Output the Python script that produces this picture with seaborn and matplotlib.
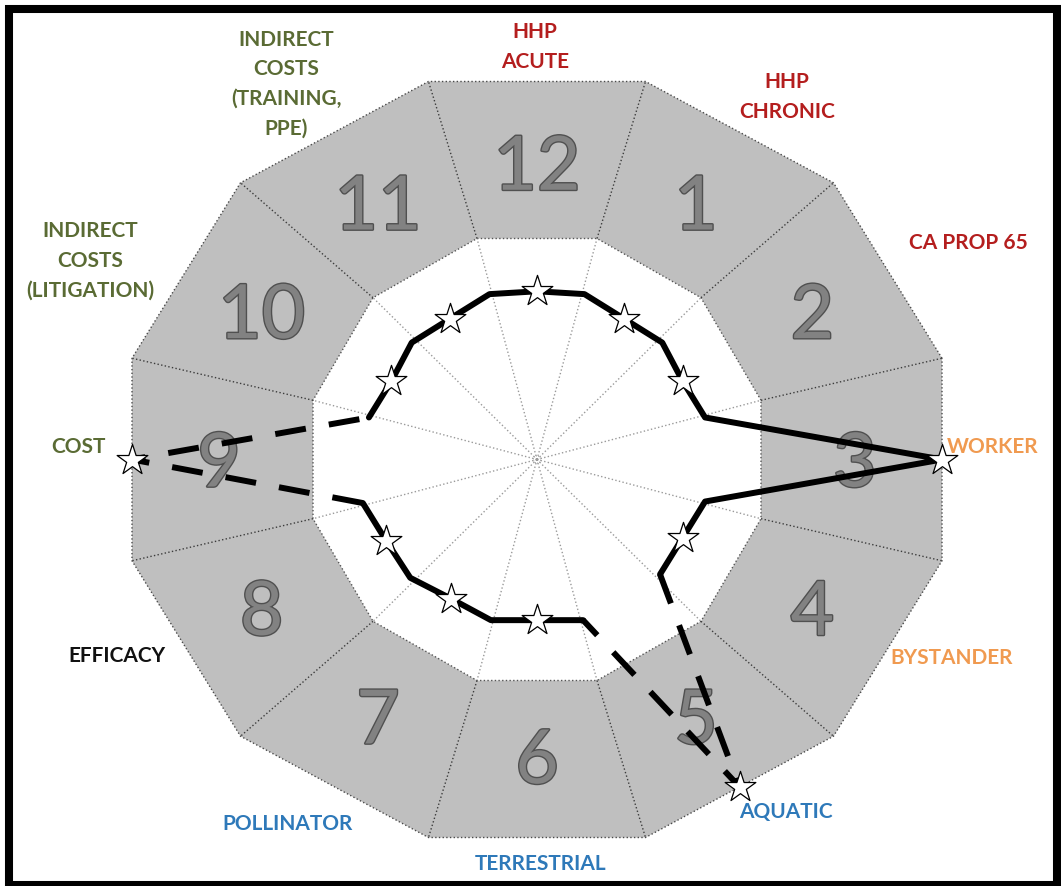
import numpy as np
import pandas as pd
import matplotlib
matplotlib.use("Agg")
import matplotlib.pyplot as plt
import matplotlib.patheffects as pe
from matplotlib.patches import Polygon, Rectangle, Circle
import seaborn as sns

# --- data -------------------------------------------------------------
sectors = [1, 2, 3, 4, 5, 6, 7, 8, 9, 10, 11, 12]
scores = [0.43, 0.415, 1.0, 0.415, 1.0, 0.425, 0.425, 0.43, 1.0, 0.415, 0.43, 0.445]
dashed_sectors = [5, 9]
criteria = ["HHP\nCHRONIC", "CA PROP 65", "WORKER", "BYSTANDER", "AQUATIC",
            "TERRESTRIAL", "POLLINATOR", "EFFICACY", "COST",
            "INDIRECT\nCOSTS\n(LITIGATION)", "INDIRECT\nCOSTS\n(TRAINING,\nPPE)",
            "HHP\nACUTE"]
groups = ["human", "human", "exposure", "exposure", "eco", "eco", "eco",
          "efficacy", "economic", "economic", "economic", "human"]
group_colors = {"human": "#b41e1e", "exposure": "#f09a50", "eco": "#2e79b9",
                "efficacy": "#111111", "economic": "#5a6b34"}
# label anchor, in picture pixels (x from left, y from top)
label_xy = [(787, 97), (968, 243), (993, 447), (952, 658), (786, 812),
            (541, 864), (288, 824), (117, 656), (78, 447), (90, 261),
            (286, 84), (535, 47)]

# --- geometry ---------------------------------------------------------
W, H = 1061, 886
CX, CY = 537, 459.5
RX, RY = 405, 378          # outer ring apothem (px), a bit wider than tall
IN_X, IN_Y = 224, 221      # inner white ring apothem (px)
NUM_R = 0.785
C15 = np.cos(np.radians(15))


def to_xy(angle, r, rx=RX, ry=RY):
    a = np.radians(angle)
    return r * np.cos(a) * rx, r * np.sin(a) * ry


def center_angle(s):
    return 90 - 30 * s


def dodecagon(rx, ry):
    return [to_xy(15 + 30 * k, 1 / C15, rx, ry) for k in range(12)]


sns.set_style("white")
plt.rcParams["font.family"] = ["Lato", "DejaVu Sans"]

fig = plt.figure(figsize=(W / 100, H / 100), dpi=100)
ax = fig.add_axes([0, 0, 1, 1])
ax.set_xlim(-CX, W - CX)
ax.set_ylim(CY - H, CY)
ax.axis("off")

# rings
ax.add_patch(Polygon(dodecagon(RX, RY), closed=True, fc="#bfbfbf", ec="#4a4a4a",
                     lw=1, ls=":", zorder=1))
ax.add_patch(Polygon(dodecagon(IN_X, IN_Y), closed=True, fc="white", ec="#555555",
                     lw=1, ls=":", zorder=1.5))

# spokes
outer_v = dodecagon(RX, RY)
inner_v = dodecagon(IN_X, IN_Y)
for (ox, oy), (ix, iy) in zip(outer_v, inner_v):
    ax.plot([0, ix], [0, iy], ls=":", color="#9a9a9a", lw=1, zorder=2)
    ax.plot([ix, ox], [iy, oy], ls=":", color="#3c3c3c", lw=1, zorder=2)
ax.add_patch(Circle((0, 0), 3.5, fill=False, ec="#888888", lw=0.6, ls=":", zorder=2))

# sector numbers
for s in sectors:
    x, y = to_xy(center_angle(s), NUM_R)
    ax.text(x, y - 27, str(s), fontsize=54, color="#828282", ha="center",
            va="baseline", zorder=3,
            path_effects=[pe.withStroke(linewidth=2, foreground="#505050")])

# score line: star at each sector centre, vertices on the sector boundaries
score_of = dict(zip(sectors, scores))
style_of = {s: ("dashed" if s in dashed_sectors else "solid") for s in sectors}


def boundary(s, t):
    vals = [score_of[k] for k in (s, t) if score_of[k] < 0.9]
    return to_xy(center_angle(s) - 15, np.mean(vals) / C15)


order = sectors[:]
start = next(i for i in range(12) if style_of[order[i]] != style_of[order[i - 1]])
order = order[start:] + order[:start]

rows = []
piece = -1
prev_style = None
for s in order:
    nxt = sectors[s % 12]
    prv = sectors[(s - 2) % 12]
    if style_of[s] != prev_style:
        piece += 1
        bx, by = boundary(prv, s)
        rows.append((piece, style_of[s], bx, by))
        prev_style = style_of[s]
    sx, sy = to_xy(center_angle(s), score_of[s])
    rows.append((piece, style_of[s], sx, sy))
    bx, by = boundary(s, nxt)
    rows.append((piece, style_of[s], bx, by))
line_df = pd.DataFrame(rows, columns=["piece", "kind", "x", "y"])

sns.lineplot(data=line_df, x="x", y="y", units="piece", style="kind",
             dashes={"solid": "", "dashed": (5.2, 3.9)}, estimator=None,
             sort=False, color="black", linewidth=4.3, legend=False, ax=ax,
             zorder=4)

star_df = pd.DataFrame({
    "x": [to_xy(center_angle(s), v)[0] for s, v in zip(sectors, scores)],
    "y": [to_xy(center_angle(s), v)[1] for s, v in zip(sectors, scores)],
})
sns.scatterplot(data=star_df, x="x", y="y", marker="*", s=540, color="white",
                edgecolor="black", linewidth=0.9, zorder=5, legend=False, ax=ax)

# criteria labels
for text, g, (px, py) in zip(criteria, groups, label_xy):
    ax.text(px - CX, CY - py, text, color=group_colors[g], fontsize=15,
            fontweight="bold", ha="center", va="center", linespacing=1.6,
            zorder=6)

ax.set_xlabel("")
ax.set_ylabel("")

fig.add_artist(Rectangle((9 / W, 1 - 885 / H), (1057 - 9) / W, (885 - 9) / H,
                         transform=fig.transFigure, fill=False, lw=5.8,
                         ec="black"))

fig.savefig("out.png", dpi=100)
